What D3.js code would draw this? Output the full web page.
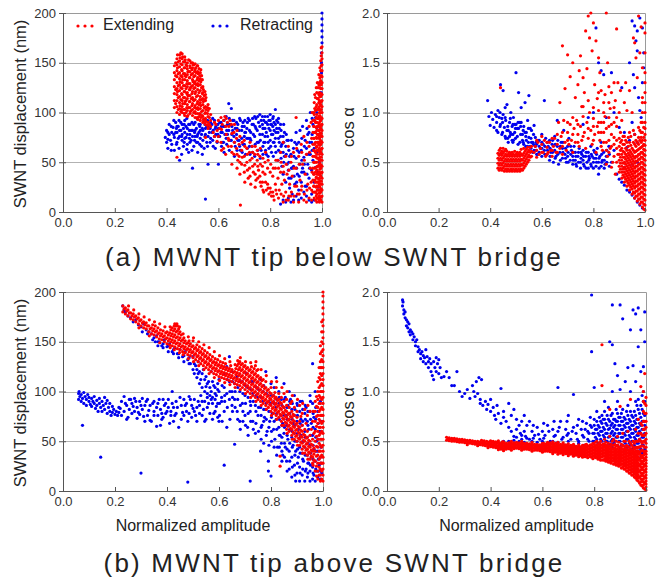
<!DOCTYPE html>
<html><head><meta charset="utf-8">
<script src="https://cdn.jsdelivr.net/npm/d3@7"></script>
<style>body{margin:0;background:#fff}svg{display:block}</style>
</head><body><svg id="c" width="668" height="580"></svg>
<script>
// ---------- data (column groups: [x, [y values]]) ----------
const xTicks=[0,0.2,0.4,0.6,0.8,1.0];
const dispTicks=[0,50,100,150,200];
const cosTicks=[0,0.5,1.0,1.5,2.0];
const seriesNames=["Extending","Retracting"];
const panelTitles=["(a) MWNT tip below SWNT bridge","(b) MWNT tip above SWNT bridge"];

// (a) displacement, retracting
const retA_disp=[[.395,[75]],[.40,[70,82]],[.405,[64,80,73]],[.41,[78,88]],[.415,[72]],[.418,[86,62]],[.42,[80,68]],[.425,[85]],[.428,[78,92]],[.43,[75,62]],[.435,[90,80]],[.438,[68,84]],[.44,[80,70,86]],[.445,[86,74]],[.448,[92,64]],[.45,[76,52,82]],[.455,[82,90]],[.458,[76,58]],[.46,[88,72,78]],[.465,[66,84]],[.468,[88,70]],[.47,[80,92,74]],[.475,[75,86]],[.478,[63,94]],[.48,[84,68,78]],[.485,[60,88]],[.488,[82,74]],[.49,[78,88,70]],[.495,[72,82]],[.498,[90,62]],[.50,[82,44,76]],[.505,[66,88]],[.508,[72,80]],[.51,[76,90,82]],[.515,[84,70]],[.518,[94,76]],[.52,[70,60,78]],[.525,[80,88]],[.528,[68,86]],[.53,[88,74,82]],[.535,[66,78]],[.538,[84,58]],[.54,[82,72]],[.545,[92,64]],[.548,[76,88]],[.55,[78,13,84]],[.555,[70,86]],[.558,[66,92]],[.56,[86,48,76]],[.565,[80]],[.568,[84,70]],[.57,[74,90]],[.575,[88,80]],[.578,[94,72]],[.58,[82,66]],[.585,[92,76]],[.588,[64,84]],[.59,[78,86]],[.595,[70]],[.598,[88,78]],[.60,[84,48,76]],[.605,[76,90]],[.61,[90,80]],[.612,[66,86]],[.615,[80,70]],[.62,[70,86]],[.622,[92,60]],[.625,[86,78]],[.63,[96,74]],[.632,[82,68]],[.635,[78,88]],[.64,[109,82]],[.642,[94,62]],[.645,[88,72]],[.65,[104,72]],[.652,[86,78]],[.655,[82,92]],[.66,[92,76]],[.662,[70,56]],[.665,[66,84]],[.67,[78,90]],[.672,[84,62]],[.675,[88,72]],[.68,[72,82]],[.682,[94,66]],[.685,[62,92]],[.69,[82,74]],[.692,[60,86]],[.695,[90,68]],[.70,[76,68,86]],[.702,[92,80]],[.705,[58,80]],[.71,[84,74]],[.712,[64,90]],[.715,[74,94]],[.72,[92,66,82]],[.722,[74,58]],[.725,[80,72]],[.73,[66,88]],[.732,[94,60]],[.735,[88,78]],[.74,[76,56,96]],[.742,[68,86]],[.745,[94,84]],[.75,[82,70]],[.752,[62,96]],[.755,[70,90]],[.76,[98,86,78]],[.762,[72,54]],[.765,[62,92]],[.77,[78,88,96]],[.772,[84,66,58]],[.775,[92,70,84]],[.78,[96,84,70,76]],[.782,[90,62]],[.785,[58,90,80]],[.79,[88,76,96]],[.792,[70,56]],[.795,[64,84,92]],[.80,[92,82,72,98]],[.802,[66,88]],[.805,[60,88,78]],[.81,[86,78,94]],[.812,[96,70,56]],[.815,[90,70,82]],[.82,[103,74,66,88]],[.822,[80,60]],[.825,[84,92]],[.83,[80,52,90]],[.832,[94,74,62]],[.835,[70,84]],[.84,[88,60,76,8]],[.842,[82,66,54]],[.845,[46,68]],[.85,[76,38,60,12]],[.852,[70,88,50]],[.855,[56,80]],[.86,[66,30,10]],[.862,[58,78]],[.865,[48,72]],[.87,[72,42,14]],[.872,[62,50,34]],[.875,[24,56]],[.88,[58,34,10]],[.882,[72,44]],[.885,[18,44]],[.89,[64,46,12]],[.892,[56,36]],[.895,[28,70]],[.90,[80,54,16]],[.902,[68,44,30]],[.905,[38,62]],[.91,[70,22,12]],[.912,[60,36]],[.915,[48,82]],[.92,[62,30,14]],[.922,[74,52,40]],[.925,[86,44]],[.93,[55,40,20]],[.932,[66,48]],[.935,[72,26]],[.94,[92,64,26,16]],[.942,[84,58,38]],[.945,[48,78]],[.95,[80,34,58,12]],[.952,[70,44]],[.955,[100,58]],[.96,[70,42,18,10]],[.962,[94,78,62]],[.965,[88,52]],[.97,[64,30,12]],[.975,[95,45]],[.98,[100,85,60]],[.985,[40,25]],[.99,[110,75,50,15]],[.996,[120,130]],[.998,[140,150,160]],[1,[170,176,182,188,194,200]]];

// (a) displacement, extending
const extA_disp=[[.43,[105,112,119,126,133,140,147]],[.435,[109,123,137,150]],[.44,[100,106,112,118,124,130,136,142,148,154,55]],[.442,[158,145,121]],[.445,[103,115,127,139,151]],[.45,[98,104,110,116,122,128,134,140,146,152,158]],[.452,[107,131,155]],[.455,[101,113,125,137,149,160]],[.458,[119,143,103]],[.46,[100,106,112,118,124,130,136,142,148,154,159]],[.462,[109,133,156]],[.465,[103,115,127,139,151]],[.468,[121,145,99]],[.47,[97,103,109,115,121,127,133,139,145,151,156]],[.472,[111,137,153]],[.475,[100,112,124,136,148]],[.478,[105,129,147,119]],[.48,[96,102,108,114,120,126,132,138,144,150]],[.482,[97,117,141]],[.485,[105,117,129,141,153]],[.488,[111,135,123]],[.49,[99,105,111,117,123,129,135,141,147,152]],[.492,[101,125,145]],[.495,[102,114,126,138,150]],[.498,[107,119,143]],[.50,[97,103,109,115,121,127,133,139,145,150]],[.502,[113,131,148]],[.505,[100,112,124,136,148]],[.508,[105,129,141]],[.51,[95,101,107,113,119,125,131,137,143,149]],[.512,[99,121,145]],[.515,[104,116,128,140]],[.518,[95,109,133,147]],[.52,[93,99,105,111,117,123,129,135,141,147]],[.522,[103,127,139]],[.525,[96,108,120,132,144]],[.528,[99,113,137]],[.53,[92,98,104,110,116,122,128,134,140]],[.532,[95,107,131,143]],[.535,[101,113,125,137]],[.538,[97,119,133]],[.54,[90,96,102,108,114,120,126]],[.542,[93,111,123]],[.545,[93,105,117]],[.548,[91,99,113,121]],[.55,[88,94,100,106,112,118,75]],[.552,[91,103,115]],[.558,[87,99,105]],[.56,[84,90,96,102,108]],[.565,[88,95,104]],[.57,[86,92,98]],
[.58,[80]],[.585,[76,90]],[.59,[88]],[.595,[82,71]],[.60,[92,76]],[.605,[84]],[.61,[95,70]],[.612,[83,62]],[.615,[88]],[.62,[92,64]],[.625,[96]],[.628,[86,58]],[.63,[94,78]],[.635,[90]],[.638,[74,66]],[.64,[86,72]],[.645,[92]],[.65,[88,66]],[.652,[79,60,48]],[.66,[80,58]],[.662,[88,70]],[.67,[74,64]],[.672,[82,58,44]],[.675,[52]],[.68,[68,56]],[.683,[76,50,38]],[.685,[7]],[.69,[62,48]],[.692,[70,55]],[.70,[72,56,40]],[.702,[66,47,30]],[.71,[64,50]],[.712,[58,42]],[.715,[34]],[.72,[60,44]],[.722,[70,52,36]],[.725,[28]],[.73,[66,54]],[.732,[46,60]],[.735,[40]],[.74,[58,48]],[.742,[66,38,25]],[.745,[32]],[.75,[62,52]],[.752,[46,58,34]],[.755,[42]],[.76,[56,36]],[.762,[64,48,30]],[.765,[26]],[.77,[46,30]],[.772,[54,40,22]],[.775,[20]],[.78,[50,38]],[.782,[60,30]],[.785,[22]],[.79,[44,28]],[.792,[52,24]],[.795,[18]],[.80,[40,24]],[.802,[48,20]],[.805,[16]],[.81,[36,20]],[.812,[44,16]],[.815,[12]],[.82,[44,28]],[.822,[52,22]],[.825,[18]],[.83,[52,34]],[.832,[44,14]],[.835,[22]],[.84,[60,40]],[.842,[50,18]],[.845,[28]],[.85,[70,46,10]],[.852,[40,16]],[.855,[32]],[.86,[56,20]],[.862,[48,12]],[.865,[38]],[.87,[66,12]],[.872,[42,16]],[.875,[28]],[.88,[50,16]],[.882,[56,20]],[.885,[36]],[.89,[60,10]],[.892,[44,16]],[.895,[26]],[.90,[95,44]],[.902,[64,26]],[.905,[18]],[.91,[56,10]],[.912,[48,18]],[.915,[32]],[.92,[68,22]],[.922,[60,26]],[.925,[48]],[.93,[76,12]],[.932,[52,18]],[.935,[38]],[.94,[58,10]],[.942,[70,22]],[.945,[28]],[.95,[86,66,14]],[.952,[60,24]],[.955,[44]],[.958,[90,30]],[.96,[74,22,12]],[.962,[100,40]],
[.965,[20,32,44,56,68,80,92]],[.968,[26,38,50,62,74,86,100]],[.97,[14,26,38,50,62,74,86,98,110]],[.972,[20,32,44,56,68,80,92,104,118]],[.975,[12,20,30,40,50,60,70,80,90,102,115]],[.978,[16,25,35,45,55,65,75,85,95,106,125]],[.98,[10,18,26,34,42,50,58,66,74,82,90,98,108,120]],[.982,[14,22,30,38,46,54,62,70,78,86,94,103,114,130]],[.985,[14,22,30,38,46,54,62,70,78,86,94,104,114,125]],[.988,[12,19,26,33,40,47,54,61,68,75,82,89,96,103,110,118,128,138]],[.99,[10,16,22,28,34,40,46,52,58,64,70,76,82,88,94,100,106,112,120,130]],[.992,[13,19,25,31,37,43,49,55,61,67,73,79,85,91,97,103,109,116,125,135,145]],[.995,[12,20,28,36,44,52,60,68,76,84,92,100,108,116,124,132,142,152]],[.997,[15,23,31,39,47,55,63,71,79,87,95,103,111,119,128,137,147,157,165]],[1,[10,16,22,28,34,40,46,52,58,64,70,76,82,88,94,100,106,112,118,124,130,136,142,148,154,160,166]]];

// (a) cos alpha, retracting
const retA_cos=[[.39,[1.12]],[.395,[.96]],[.40,[.87]],[.405,[1.0]],[.41,[.93]],[.415,[.85]],[.42,[.98]],[.425,[.9,.82,.96]],[.43,[1.02,.8]],[.435,[.95]],[.438,[.86,1.0]],[.44,[1.28,.88]],[.445,[.78,.94]],[.448,[.8,.9]],[.45,[1.22,.98]],[.455,[.85]],[.458,[.76,.95,1.05]],[.46,[.92,.74]],[.465,[1.08,.82]],[.468,[.86,.74]],[.47,[.82,.7]],[.475,[.9,.76]],[.478,[.8,.94]],[.48,[1.0,.78]],[.485,[.86,.72]],[.488,[.7,.88,.78]],[.49,[.72,.95]],[.495,[.8,.88]],[.498,[.84,.74]],[.50,[1.4,.88]],[.505,[.76,.84]],[.508,[.9,.68]],[.51,[1.2,.84]],[.515,[.7,.9]],[.518,[.78,.86]],[.52,[1.05,.9]],[.525,[.78,.72]],[.528,[.82,.7]],[.53,[.68,.86]],[.535,[1.1,.8]],[.538,[.76,.66]],[.54,[.8,.72]],[.545,[.92,.66]],[.548,[.84,.7]],[.55,[1.17,.75]],[.555,[.66,.84]],[.558,[.74,.64]],[.56,[.82,.7]],[.565,[.7,.6]],[.568,[.78,.68]],[.57,[.87,.62]],[.575,[.75,.66]],[.578,[.7,.62]],[.58,[.68,.58]],[.585,[.58,.72]],[.59,[.72,.66,.6]],[.595,[.64]],[.60,[.78,.56,.7,.64]],[.605,[.68]],[.61,[1.12,.62]],[.612,[.66,.58]],[.615,[.74]],[.62,[.58]],[.622,[.7,.62]],[.625,[.66]],[.63,[.52,.72]],[.632,[.64,.56]],[.635,[.6]],[.64,[.68]],[.642,[.6,.72]],[.645,[.5]],[.65,[.62,.76]],[.652,[.68,.54]],[.655,[.56]],[.66,[.92,.66]],[.662,[.58,.72]],[.665,[.48]],[.67,[.6]],[.672,[.66,.52]],[.675,[.7]],[.68,[.54,.64]],[.682,[.6,.7]],[.685,[.82]],[.69,[.58]],[.692,[.64,.54]],[.695,[.5]],[.70,[.66,.56]],[.702,[.6,.5]],[.705,[.74]],[.71,[.52]],[.712,[.66,.58]],[.715,[.62]],[.72,[.56,.48]],[.722,[.6,.52]],[.725,[.66]],[.73,[.52,.6]],[.732,[.56,.48]],[.735,[.46]],[.74,[.56]],[.742,[.6,.5]],[.745,[.64]],[.75,[.5,.44]],[.752,[.54,.6]],[.755,[.58]],[.76,[.52,.62,.88]],[.762,[.56,.48]],[.765,[.46]],[.77,[.56]],[.772,[.6,.44]],[.775,[.5]],[.78,[.44,.6,.95]],[.782,[.52,.56]],[.785,[.54]],[.79,[.48,.66]],[.792,[.58,.46]],[.795,[.56]],[.80,[.5,.44,1.0]],[.802,[.54,.62]],[.805,[.6]],[.81,[.54,.46,1.85]],[.812,[.5,.58]],[.815,[.64]],[.82,[.5,.38,1.5]],[.822,[.54,.44]],[.825,[.56]],[.83,[.46,.7,1.42]],[.832,[.58,.5]],[.835,[.52]],[.84,[.6,1.38]],[.842,[.52,.44]],[.845,[.48]],[.85,[.56,.95]],[.852,[.5,.62]],[.86,[.66]],[.862,[.58,.46]],[.87,[.5,1.4]],[.88,[.62,1.0]],[.89,[.38]],[.90,[.85,.33]],[.91,[1.25,.3]],[.92,[.8,.27,.45]],[.93,[.65,.22]],[.94,[1.5,.72,.2]],[.95,[1.92,.9,.17,.48]],[.955,[1.38]],[.96,[1.87,1.25,.78,.14]],[.965,[1.72]],[.97,[1.82,1.62,.7,.1,.5]],[.975,[1.15]],[.98,[1.95,1.02,.07]],[.985,[.95]],[.99,[1.3,1.85,.04]],[.995,[1.6,1.45]]];

// (a) cos alpha, extending
const extA_cos=[[.43,[.44,.49,.54,.59]],[.435,[.42,.47,.52,.57,.62]],[.44,[.44,.49,.54,.59,.64,1.25]],[.445,[.42,.47,.52,.57,.61]],[.45,[.44,.49,.54,.59,.64]],[.455,[.41,.46,.51,.56,.61]],[.46,[.43,.48,.53,.58,.63]],[.465,[.41,.46,.51,.56,.61]],[.47,[.43,.48,.53,.58]],[.475,[.41,.46,.51,.56,.6]],[.48,[.43,.48,.53,.58]],[.485,[.41,.46,.51,.56,.6]],[.49,[.43,.48,.53,.58]],[.495,[.41,.46,.51,.56,.61]],[.50,[.43,.48,.53,.58]],[.505,[.41,.46,.51,.56,.6]],[.51,[.43,.48,.53,.58]],[.515,[.41,.46,.51,.56,.6]],[.52,[.43,.48,.53,.58,.63]],[.525,[.42,.47,.52,.57]],[.53,[.44,.49,.54,.59,.64]],[.535,[.46,.51,.56,.61]],[.54,[.48,.53,.58,.63]],[.545,[.5,.55,.6,.65]],[.55,[.52,.57,.62]],[.555,[.55,.6,.65]],[.56,[.56,.61,.66]],
[.57,[.6]],[.575,[.66]],[.58,[.62,.55,.72]],[.585,[.7]],[.59,[.58]],[.595,[.64]],[.60,[.68,.6,.76]],[.605,[.6]],[.61,[.72]],[.615,[.56]],[.62,[.65,.7,.58]],[.625,[.6]],[.63,[.7]],[.635,[.62]],[.64,[.56,.62,.74]],[.645,[.66]],[.65,[.74]],[.655,[.6]],[.66,[.68,.6,.78]],[.665,[.9]],[.67,[.64,1.1]],[.675,[.76]],[.68,[.58,1.67,.66,.8]],[.685,[.92]],[.69,[.7,1.24]],[.695,[.62]],[.70,[.8,1.58,.72,.9]],[.705,[.68]],[.71,[.88,1.36]],[.715,[.72]],[.72,[.6,1.5,.78,.95]],[.725,[.84]],[.73,[.7,1.15]],[.735,[.92]],[.74,[.78,1.28,.7,.88]],[.745,[.66,1.42]],[.75,[.86,1.57]],[.755,[.72,1.06]],[.76,[.96,1.35,.76,1.06]],[.765,[.8,1.2]],[.77,[.64,1.82]],[.775,[.9,1.44]],[.78,[.74,1.97,.84,1.12]],[.785,[1.0,1.75]],[.79,[.82,2.0]],[.795,[.68,1.62]],[.80,[.94,1.9,.72,.86,1.05]],[.805,[.78,1.28]],[.81,[.6,1.72]],[.815,[.86,1.14]],[.82,[1.02,1.55,.8,.9,1.2]],[.825,[.72,1.4]],[.83,[.9,1.22,.66,.8]],[.835,[.62]],[.84,[.8,1.1,.7,.9,1.0]],[.845,[.96,1.18]],[.85,[.7,2.0,.48,.62,.84]],[.855,[.56,1.5]],[.86,[.86,1.26,.6,.72,.95,1.1]],[.865,[.64,1.04]],[.87,[.78,1.2,.45,.66,.88]],[.875,[.5]],[.88,[.68,1.3,.56,.75,.9,1.05]],[.885,[.38,1.12]],[.89,[.86,1.84,.5,.64,.72,.95]],[.895,[.58,1.3]],
[.90,[.40,.46,.52,.58,.66,.74,1.0]],[.905,[1.22,.43,.49,.55,.62,.7,.8]],[.91,[.34,.40,.46,.52,.58,.64,.72,.92]],[.915,[.37,.43,.49,.55,.61,.68,.76]],[.92,[.30,.35,.40,.45,.50,.55,.60,.68,.76,1.1]],[.925,[1.3,.33,.38,.43,.48,.53,.58,.64,.72]],[.93,[.26,.31,.36,.41,.46,.51,.56,.62,.7,1.02]],[.935,[.29,.34,.39,.44,.49,.54,.59,.66,.75]],[.94,[.22,.27,.32,.37,.42,.47,.52,.57,.62,.7,.8,1.22]],[.945,[.25,.3,.35,.4,.45,.5,.55,.6,.67,.76]],[.95,[.18,.23,.28,.33,.38,.43,.48,.53,.58,.64,1.0]],[.955,[1.75,.2,.26,.31,.36,.41,.46,.51,.56,.62,.7,.82]],[.96,[.14,.19,.24,.29,.34,.39,.44,.49,.54,.6,.68,.78,1.7]],[.965,[.16,.26,.36,.46,.56,.66,1.55,.21,.31,.41,.51,.61,.72]],[.97,[.11,.16,.21,.26,.31,.36,.41,.46,.51,.56,.62,.7,1.35]],[.975,[.13,.23,.33,.43,.53,.63,.75,1.97,.18,.28,.38,.48,.58,.68,.85]],[.98,[.08,.13,.18,.23,.28,.33,.38,.43,.48,.53,.58,.64,.72,.82,1.6]],[.985,[.1,.2,.3,.4,.5,.6,.7,.8,1.86,.15,.25,.35,.45,.55,.65,.75,.9]],[.99,[.05,.1,.15,.2,.25,.3,.35,.4,.45,.5,.55,.6,.66,.72,.8,.9,1.0,1.1,1.15,1.45]],[.995,[.03,.08,.13,.18,.23,.28,.33,.38,.43,.48,.53,.58,.63,.68,.75,.85]],[1,[.02,.07,.12,.17,.22,.27,.32,.37,.42,.47,.52,.57,.62,.67,.72,.78,.84,.9,1.0,1.1,1.2,1.3,1.4,1.6,1.8,1.9]]];

// (b) displacement, retracting
const retB_disp=[[.06,[98,92]],[.062,[100]],[.065,[95]],[.07,[97,90]],[.075,[93,66]],[.08,[99,88]],[.085,[95]],[.09,[92,86]],[.095,[97]],[.10,[90,94]],[.105,[87]],[.11,[93,85]],[.115,[90]],[.12,[88,95]],[.125,[83]],[.13,[91,86]],[.135,[80]],[.14,[93,88]],[.145,[84,34]],[.15,[90,80]],[.155,[86]],[.16,[94,82]],[.165,[88]],[.17,[91,78]],[.175,[84]],[.18,[88,80]],[.185,[76]],[.19,[85,79]],[.195,[82]],[.20,[77]],[.205,[80]],[.21,[76]],[.215,[84,79]],
[.22,[83]],[.225,[90,76]],[.23,[186]],[.235,[182,80,95]],[.24,[88,180]],[.245,[86,72]],[.25,[74,176]],[.255,[92,82]],[.26,[92,174]],[.265,[78,88]],[.27,[85,170]],[.275,[93,80]],[.28,[90,172]],[.285,[84,73]],[.29,[79,167]],[.295,[90,77]],[.30,[86,18,165]],[.305,[82,93,160]],[.31,[75,168]],[.315,[86,70]],[.32,[90,162]],[.325,[76,92,158]],[.33,[81,160]],[.335,[86,71]],[.34,[70,158]],[.345,[88,152]],[.35,[76,154,90,80]],[.355,[150]],[.36,[84,65,156]],[.365,[76,88,150,146]],[.37,[92,150]],[.375,[82,66]],[.38,[78,72,146]],[.385,[92,74,144,148]],[.39,[86,152]],[.395,[78,88]],[.40,[80,145]],[.405,[92,84,140,146]],[.41,[68,148]],[.415,[76,80]],[.42,[100,88,140]],[.425,[84,70,138,142]],[.43,[76,144]],[.435,[90,78]],[.44,[84,138]],[.445,[64,134,138]],[.45,[94,142]],[.455,[86,72]],[.46,[79,135]],[.465,[92,76,130,136]],[.47,[86,140]],[.475,[80,88]],[.48,[9,70,132]],[.485,[78,95,128,134]],[.49,[92,128]],[.495,[86,74]],[.50,[83,135,122]],[.505,[92,80,118,128]],[.51,[76,126]],[.515,[84,70,114,122]],[.52,[90,118,130]],[.525,[86,78,108,120]],[.53,[96,112]],[.535,[76,90,104,118]],[.54,[82,122]],[.545,[90,70,100,112]],[.55,[72,105,115]],[.555,[84,94,98,108]],[.56,[88,110]],[.565,[78,96,104]],[.57,[92,100,120]],[.575,[88,72,94,110]],[.58,[78,106]],[.585,[80,92,98,104]],[.59,[85,96]],[.595,[74,88,102,108]],[.60,[70,112,100]],[.602,[88,76]],[.61,[90,94]],[.612,[106,70]],[.62,[26,80,118,104]],[.622,[96,90]],[.63,[64,125,98]],[.632,[112,84]],[.64,[92,135,110]],[.642,[100,72]],[.65,[86,120,100]],[.652,[110,94,80]],
[.66,[108,92,47]],[.662,[100,84]],[.67,[115,80]],[.672,[104,92,72]],[.68,[100,70]],[.682,[110,86,62]],[.69,[110,88]],[.692,[98,80,70]],[.70,[96,76]],[.702,[106,88,66]],[.705,[118]],[.71,[104,64]],[.712,[94,78,56]],[.72,[90,80,10]],[.722,[102,86,70]],[.725,[110]],[.73,[98,70]],[.732,[110,90,62]],[.74,[86,58]],[.742,[96,80,68]],[.745,[104]],[.75,[94,76]],[.752,[102,84,60]],[.76,[112,84,40]],[.762,[94,76,64,52]],[.765,[66]],[.77,[100,90]],[.772,[106,82,70,48]],[.775,[74]],[.78,[120,82]],[.782,[98,88,72,56]],[.785,[60]],[.79,[96,30,20]],[.792,[90,80,64,46]],[.795,[70]],[.80,[108,88,15]],[.802,[96,74,60,50]],[.805,[78]],[.81,[96,62]],[.812,[104,88,70,44]],[.815,[52]],[.82,[114,84,72]],[.822,[92,78,62,36]],[.825,[44]],[.83,[100,88,64]],[.832,[94,72,56,44]],[.835,[56]],[.84,[92,76,48]],[.842,[86,66,54,40,30]],[.845,[68,36]],[.85,[108,84,58]],[.852,[92,76,64,48,34]],[.855,[94,44]],[.86,[76,66,30]],[.862,[84,72,56,42,20]],[.865,[86,52]],[.87,[100,72,40,22]],[.872,[90,78,62,48,30]],[.875,[62,92]],[.88,[82,54,34,14]],[.882,[88,72,60,44,24]],[.885,[68,46]],[.89,[96,76,58,26]],[.892,[82,66,50,36,16]],[.895,[40,10]],[.90,[88,70,50,18]],[.902,[86,76,58,42,28]],[.905,[62,34]],[.91,[80,44,24,10]],[.912,[90,68,54,38,18]],[.915,[56,72]],[.92,[90,66,38,16]],[.922,[82,70,50,32,22]],[.925,[50,30]],[.93,[78,60,44,10]],[.932,[86,72,54,36,20]],[.935,[84,22]],[.94,[70,54,36,14]],[.942,[80,66,48,28,18]],[.945,[62,28]],[.95,[96,80,46,20,10]],[.952,[90,72,56,38,26]],[.955,[68,34]],[.96,[128,88,56,24,12]],[.962,[78,64,46,32,18]],[.965,[74,42,16]],[.97,[100,62,30,10]],[.972,[84,72,54,40,22]],[.975,[50,20]],[.98,[80,40,14]],[.982,[68,52,32,20]],[.985,[60,26]],[.99,[90,34,12]],[.992,[60,44,28,20]],[.995,[70,18]]];

// (b) displacement, extending
const extB_disp=[[.23,[180,186]],[.235,[183]],[.24,[178,184]],[.245,[181]],[.25,[176,182]],[.252,[186]],[.255,[179]],[.26,[173,179]],[.265,[176]],[.27,[172,178]],[.272,[182]],[.275,[175]],[.28,[170,176]],[.285,[173]],[.29,[168,174]],[.292,[178,164]],[.295,[171]],[.30,[166,172]],[.305,[169]],[.31,[164,170]],[.312,[175]],[.315,[167]],[.32,[163,169]],[.325,[166]],[.33,[160,166]],[.332,[172,156]],[.335,[163]],[.34,[158,164]],[.345,[161,167]],[.35,[157,163]],[.352,[170]],[.355,[160,166]],[.36,[155,161]],[.365,[158,164]],[.37,[153,159]],[.372,[168,149]],[.375,[156,162]],[.38,[152,158]],[.385,[155,161]],[.39,[150,156]],[.392,[165]],[.395,[153,159]],[.40,[148,154,160]],[.405,[151,157]],[.41,[147,153,159]],[.412,[165,144]],[.415,[150,156,162]],[.42,[146,152,158,164]],[.425,[149,155,161]],[.428,[166,142]],[.43,[145,151,157,163,168]],[.435,[148,154,160,166]],[.438,[168]],[.44,[143,149,155,161,166]],[.445,[146,152,158,163]],[.448,[165,139]],[.45,[142,148,154,160]],[.455,[145,151,157]],[.46,[140,146,152]],[.462,[158,137]],[.465,[143,149,154]],[.47,[139,145,151]],[.475,[142,148]],[.48,[137,143,149]],[.482,[155,133]],[.485,[140,146,151]],[.49,[136,142,148]],[.495,[139,145]],[.50,[134,140,146,151]],[.502,[154,130]],[.505,[137,143]],[.51,[132,138,144]],[.515,[135,141,147]],[.52,[130,136,142]],[.522,[150,126]],[.525,[133,139,145]],[.53,[128,134,140]],[.535,[131,137,143]],[.54,[126,132,138]],[.542,[147,122]],[.545,[129,135,141]],[.55,[124,130,136]],[.555,[127,133,139]],[.56,[122,128,134]],[.562,[144,118]],[.565,[125,131,137]],[.57,[120,126,132]],[.575,[123,129,135]],[.58,[118,124,130]],[.582,[140,114]],[.585,[121,127,133]],[.59,[117,123,129]],[.595,[120,126,132]],[.60,[115,121,127]],[.602,[136,111]],[.605,[118,124,130]],[.61,[114,120,126]],[.615,[117,123,129]],[.62,[113,119,125]],[.622,[133,109]],[.625,[116,122,128]],[.63,[112,118,124]],[.635,[115,121]],[.64,[111,117,123]],[.642,[130,107]],[.645,[114,120,126]],[.65,[110,116,122]],[.655,[113,119]],[.66,[108,114,120]],[.662,[127,104]],[.665,[111,117,123]],[.67,[107,113,119,126]],[.672,[131]],[.675,[110,116,122,128]],[.68,[106,112,118,124,130]],[.682,[134,102]],[.685,[109,115,121,127]],[.69,[104,110,116,122,128]],[.695,[107,113,119,125]],[.70,[102,108,114,120,126]],[.702,[130,98]],[.705,[105,111,117,123]],[.71,[100,106,112,118,124]],[.715,[103,109,115,121]],[.72,[98,104,110,116,122]],[.722,[129,94]],[.725,[101,107,113,119,125]],[.73,[96,102,108,114,120]],[.735,[99,105,111,117,123]],[.74,[94,100,106,112,118,126]],[.742,[130,90]],[.745,[97,103,109,115,121]],[.75,[92,98,104,110,116,122]],[.755,[95,101,107,113]],[.76,[90,96,102,108,114]],[.762,[122,86]],[.765,[93,99,105,111]],[.77,[88,94,100,106,112]],[.775,[91,97,103]],[.78,[86,92,98,104,110]],[.782,[116,82]],[.785,[89,95,101]],[.79,[84,90,96,102]],[.795,[87,93,99]],[.80,[80,86,92,98,104]],[.802,[110,76]],[.805,[83,89,95]],[.81,[78,84,90,96]],[.815,[81,87,93,99]],[.82,[76,82,88,94,104]],[.822,[110,72]],[.825,[79,85,91]],[.83,[74,80,86,92,98]],[.835,[77,83,89,25,35]],[.84,[70,76,82,88,94]],[.842,[104,66]],[.845,[73,79,85]],[.85,[66,72,78,84,90,98]],[.855,[69,75,81]],[.86,[62,68,74,80,86,92]],[.862,[100,58]],[.865,[65,71,77]],[.87,[60,66,72,78,84]],[.875,[63,69,75,88]],[.88,[56,62,68,74,80,90]],[.882,[96,52]],[.885,[59,65,71,77]],[.89,[52,58,64,70,76,84]],[.895,[55,61,67]],[.90,[50,56,62,68,74,80]],[.902,[92,46]],[.905,[53,59,65]],[.91,[46,52,58,64,70,86]],[.915,[49,55,61,75]],[.92,[42,48,54,60,66,78]],[.922,[88,38]],[.925,[45,51,57]],[.93,[38,44,50,56,62,82]],[.935,[41,47,53,68]],[.94,[36,42,48,54,60,76]],[.942,[86,32]],[.945,[39,45,51]],[.95,[32,38,44,50,56,80]],[.955,[35,41,47,62]],[.96,[28,34,40,46,52,70]],[.962,[80,26]],[.965,[31,37,43,58]],
[.97,[20,30,40,50,60,70,80,90]],[.975,[15,25,35,45,55,65,75,85,95]],[.98,[12,20,28,36,44,52,60,68,76,84,92,100,110]],[.985,[16,24,32,40,48,56,64,72,80,88,96,104,114,124]],[.99,[10,16,22,28,34,40,46,52,58,64,70,76,82,88,94,100,106,112,118,124,130,138,146]],[.995,[12,20,28,36,44,52,60,68,76,84,92,100,108,116,124,132,140,150,160,170]],[1,[10,16,22,28,34,40,46,52,58,64,70,76,82,88,94,100,106,112,118,124,130,136,142,148,154,160,166,172,178,184,190,196,200]]];

// (b) cos alpha, retracting
const retB_cos=[[.06,[1.92,1.86]],[.062,[1.9]],[.065,[1.82,1.78]],[.07,[1.8,1.74]],[.075,[1.72,1.66]],[.08,[1.7,1.64]],[.085,[1.68,1.6]],[.09,[1.62,1.57]],[.095,[1.6]],[.10,[1.58,1.52]],[.105,[1.55]],[.11,[1.5,1.46]],[.115,[1.52]],[.12,[1.45,1.4]],[.125,[1.42]],[.13,[1.38,1.33]],[.135,[1.4]],[.14,[1.36,1.3]],[.145,[1.34]],[.15,[1.42,1.28]],[.155,[1.35]],[.16,[1.3,1.24]],[.165,[1.33]],[.17,[1.2,1.28]],[.175,[1.16]],[.18,[1.12,1.3]],[.185,[1.24]],[.19,[1.34,1.2]],[.195,[1.28]],[.20,[1.32,1.18]],[.205,[1.24]],[.21,[1.14]],[.22,[1.15]],[.23,[1.2]],[.24,[1.14]],[.25,[1.06]],[.26,[1.06]],[.27,[1.2]],[.28,[1.0]],[.29,[.95]],[.30,[.98]],[.31,[1.02]],[.32,[.93]],[.33,[1.06]],[.335,[1.0]],[.34,[.95]],[.345,[1.1]],[.35,[.98]],[.355,[1.14]],[.36,[.92,.88]],[.365,[1.12]],[.37,[.86]],[.38,[.9]],[.385,[.82]],[.39,[.87]],[.40,[.8,.92]],[.41,[.84]],[.415,[.76]],[.42,[.72]],[.425,[.86]],[.43,[.78]],[.44,[1.03,.68]],[.45,[.8,.74,.5]],[.46,[.7]],[.47,[.88,.64,.5]],[.48,[.76,.6]],[.49,[.82,.55,.51]],[.50,[.72,.62,.54]],[.51,[.66,.5]],[.515,[.58]],[.52,[.7,.56,.52]],[.53,[.6,.76,.49]],[.535,[.55]],[.54,[.66,.53]],[.55,[.52,.7]],[.56,[.6,.5]],[.565,[.66,.53]],[.57,[.56]],[.58,[.64,.49]],[.585,[.57]],[.59,[.52]],[.60,[.6,.5]],[.605,[.53,.68]],[.61,[.56]],[.62,[.66,.48]],[.625,[.6]],[.63,[.5]],[.64,[.62,.5]],[.645,[.55,.7]],[.65,[.56]],[.66,[1.04,.6,.49]],[.665,[.64]],[.67,[.7]],[.675,[.52]],[.68,[.54,.47]],[.69,[.62]],[.695,[.56,.7]],[.70,[.76,.58,.5]],[.71,[.52]],[.715,[.6]],[.72,[.97,.64,.46]],[.73,[.58]],[.735,[.52,.66]],[.74,[.72,.5,.48]],[.75,[.62]],[.755,[.56,.7]],[.76,[.54,.46]],[.765,[.62]],[.77,[.68]],[.775,[.52,.6]],[.78,[.58,.5]],[.785,[.66,.74]],[.79,[1.97,1.4,.64]],[.795,[.5,.58]],
[.80,[1.04,.72,.5,.58,.66]],[.805,[.54,.62]],[.81,[.52,.62,.7,.8]],[.815,[.58,.66,.48]],[.82,[.48,.56,.64,.74]],[.825,[.52,.6,.7]],[.83,[.5,.6,.68,.76]],[.835,[.56,.64,.72]],[.84,[.46,.54,.62,.72,.8,.9]],[.845,[.5,.58,.68]],[.85,[.5,.58,.66,.76,.35]],[.855,[.54,.62,.72,.84]],[.86,[.47,.55,.63,.7,1.5]],[.865,[.5,.58,.66,.76]],[.87,[.44,.52,.6,.68,.78,1.87,1.47,1.0]],[.875,[.48,.56,.64,.72]],[.88,[.5,.58,.66,.72,1.28,.32]],[.885,[.54,.62,.7,.82]],[.89,[.46,.54,.62,.7,.78,.9,1.16]],[.895,[.5,.58,.66,.74]],[.90,[.42,.5,.58,.66,.74,1.87,1.02,.3]],[.905,[.46,.54,.62,.7,.78]],[.91,[.46,.54,.62,.7,.82,1.73]],[.915,[.5,.58,.66,.74]],[.92,[.4,.48,.56,.64,.72,1.1,.28]],[.925,[.44,.52,.6,.68,.8]],[.93,[.44,.52,.6,.68,.76,1.24,.86]],[.935,[.48,.56,.64,.72]],[.94,[.38,.46,.54,.62,.7,.8,1.62,1.0]],[.945,[.42,.5,.58,.66,.76]],[.95,[.42,.5,.58,.66,.74,1.82,1.26,.22]],[.955,[.46,.54,.62,.7,.8]],[.96,[.36,.44,.52,.6,.68,.76,.9,1.78,1.1]],[.965,[.4,.48,.56,.64,.72,.86]],[.97,[.4,.48,.56,.64,.72,.82,1.84,1.45,.92]],[.975,[.44,.52,.6,.68,.78]],[.98,[.34,.42,.5,.58,.66,.74,.86,1.62,1.2]],[.985,[.38,.46,.54,.62,.7,.82,.96]],[.99,[.38,.46,.54,.62,.7,.78,.9,1.25,1.0]],[.995,[1.8,1.5,.42,.5,.58,.66,.76,.9]]];

// (b) cos alpha, extending
const extB_cos=[[.23,[.51,.54]],[.235,[.525]],[.24,[.505,.535]],[.245,[.52]],[.25,[.5,.53]],[.255,[.515]],[.26,[.5,.53]],[.265,[.515]],[.27,[.495,.525]],[.275,[.51]],[.28,[.49,.52]],[.285,[.505]],[.29,[.49,.52]],[.295,[.505]],[.30,[.485,.515]],[.305,[.5]],[.31,[.48,.51,.465]],[.315,[.495]],[.32,[.48,.51]],[.325,[.495]],[.33,[.475,.505]],[.335,[.49]],[.34,[.47,.5]],[.345,[.485]],[.35,[.47,.5,.455]],[.355,[.485]],[.36,[.465,.495]],[.365,[.48,.51]],[.37,[.46,.49]],[.375,[.475,.505]],[.38,[.455,.485]],[.385,[.47,.5]],[.39,[.45,.48,.435]],[.395,[.465,.495]],[.40,[.445,.475,.505]],[.405,[.46,.49]],[.41,[.44,.47,.5]],[.415,[.455,.485]],[.42,[.435,.465,.495]],[.425,[.45,.48]],[.43,[.43,.46,.49,.415,.505]],[.435,[.445,.475]],[.44,[.42,.45,.48]],[.445,[.435,.465,.495]],[.45,[.42,.45,.48,.405,.495]],[.455,[.435,.465]],[.46,[.42,.45,.48]],[.465,[.435,.465]],[.47,[.425,.455,.485]],[.475,[.44,.47]],[.48,[.425,.455,.485,.41,.5]],[.485,[.44,.47]],[.49,[.425,.455,.485]],[.495,[.44,.47]],[.50,[.43,.46,.49]],[.505,[.445,.475]],[.51,[.425,.455,.485]],[.515,[.44,.47]],[.52,[.425,.455,.485,.41,.5]],[.525,[.44,.47]],[.53,[.42,.45,.48]],[.535,[.435,.465]],[.54,[.42,.45,.48]],[.545,[.435,.465]],[.55,[.415,.445,.475]],[.555,[.43,.46]],[.56,[.415,.445,.475,.4,.49]],[.565,[.43,.46]],[.57,[.41,.44,.47]],[.575,[.425,.455]],[.58,[.41,.44,.47]],[.585,[.425,.455]],[.59,[.405,.435,.465]],[.595,[.42,.45]],[.60,[.405,.435,.465,.39,.48]],[.605,[.42,.45,.48]],[.61,[.4,.43,.46]],[.615,[.415,.445,.475]],[.62,[.4,.43,.46,.49]],[.625,[.415,.445,.475]],[.63,[.395,.425,.455,.485]],[.635,[.41,.44,.47]],[.64,[.39,.42,.45,.48,.375,.495]],[.645,[.405,.435,.465]],[.65,[.39,.42,.45,.48]],[.655,[.405,.435,.465]],[.66,[.385,.415,.445,.475,.37,.49]],[.665,[.4,.43,.46]],[.67,[.38,.41,.44,.47]],[.675,[.395,.425,.455]],[.68,[.38,.41,.44,.47,.365,.485]],[.685,[.395,.425,.455]],[.69,[.375,.405,.435,.465]],[.695,[.39,.42,.45]],[.70,[.37,.4,.43,.46,.355,.475]],[.705,[.385,.415,.445]],[.71,[.37,.4,.43,.46]],[.715,[.385,.415,.445]],[.72,[.365,.395,.425,.455,.35,.47]],[.725,[.38,.41,.44]],[.73,[.36,.39,.42,.45]],[.735,[.375,.405,.435]],[.74,[.36,.39,.42,.45,.345,.465]],[.745,[.375,.405,.435]],[.75,[.355,.385,.415,.445]],[.755,[.34,.37,.4,.43,.46]],[.76,[.36,.39,.42,.45]],[.765,[.345,.375,.405,.435,.465]],[.77,[.35,.38,.41,.44,.47]],[.775,[.335,.365,.395,.425,.455]],[.78,[.36,.39,.42,.45]],[.785,[.345,.375,.405,.435,.465]],[.79,[.34,.37,.4,.43,.46]],[.795,[.325,.355,.385,.415,.445,.48]],[.80,[.35,.38,.41,.44,.47]],[.805,[.335,.365,.395,.425,.455,.49]],[.81,[.34,.37,.4,.43,.46,.5]],[.815,[.32,.35,.38,.41,.44,.47]],[.82,[.33,.36,.39,.42,.45,.48]],[.825,[.31,.345,.375,.405,.435,.465,.5]],[.83,[.34,.37,.4,.43,.46,1.47,1.06]],[.835,[.31,.355,.385,.415,.445,.475]],[.84,[.32,.35,.38,.41,.44,.47,.52]],[.845,[.3,.335,.365,.395,.425,.455,.49]],[.85,[.31,.34,.37,.4,.43,.46]],[.855,[.29,.325,.355,.385,.415,.445,.48]],[.86,[.3,.33,.36,.39,.42,.45,.82,.55]],[.865,[.28,.315,.345,.375,.405,.435,.47]],[.87,[.3,.33,.36,.39,.42,.46,.5]],[.875,[.27,.305,.335,.365,.395,.425,.46,.52]],[.88,[.28,.31,.34,.37,.4,.43,.47]],[.885,[.26,.295,.325,.355,.385,.415,.45,.5]],[.89,[.27,.3,.33,.36,.39,.42,.46,.55]],[.895,[.25,.285,.315,.345,.375,.405,.44,.49]],[.90,[.26,.29,.32,.35,.38,.41,.44,.85]],[.905,[.23,.27,.305,.335,.365,.395,.43,.47]],[.91,[.24,.27,.3,.33,.36,.39,.42,.46,.58]],[.915,[.22,.255,.285,.315,.345,.375,.41,.45,.5]],[.92,[.22,.25,.28,.31,.34,.37,.4,.43,.5]],[.925,[.2,.235,.265,.295,.325,.355,.385,.42,.46]],[.93,[.2,.23,.26,.29,.32,.35,.38,.41,.45,.6]],[.935,[.18,.215,.245,.275,.305,.335,.365,.4,.44,.5]],[.94,[.18,.21,.24,.27,.3,.33,.36,.39,.42,.48,.92]],[.945,[.16,.195,.225,.255,.285,.315,.345,.38,.41,.46]],[.95,[.16,.19,.22,.25,.28,.31,.34,.37,.4,.44,.5]],[.955,[.14,.175,.205,.235,.265,.295,.325,.355,.385,.42,.48]],[.96,[.13,.16,.19,.22,.25,.28,.31,.34,.37,.4,.44,.5,.62]],[.965,[.11,.145,.175,.205,.235,.265,.295,.325,.355,.39,.43,.5]],[.97,[.1,.13,.16,.19,.22,.25,.28,.31,.34,.37,.4,.44,.5,.58,.72]],[.975,[.08,.14,.2,.26,.32,.38,.44,.52]],[.98,[.06,.09,.12,.15,.18,.21,.24,.27,.3,.33,.36,.4,.45,.5,.58,.68,1.05]],[.985,[.05,.11,.17,.23,.29,.35,.41,.48,.56,.66]],[.99,[.03,.06,.09,.12,.15,.18,.21,.24,.27,.3,.33,.36,.4,.45,.5,.56,.62,.7,.8,.9,1.0]],[.995,[.02,.08,.14,.2,.26,.32,.38,.44,.5,.56,.62,.7,.78,.88,1.18]],[1,[.01,.04,.07,.1,.13,.16,.19,.22,.25,.28,.31,.34,.37,.4,.44,.48,.52,.58,.64,.7,.78,.86,.94]]];

// ---------- drawing ----------
const RED="#ff0000", BLUE="#0000ee";
const FONT="'Liberation Sans', Arial, Helvetica, sans-serif";
const flat=cols=>cols.flatMap(([x,ys])=>ys.map(y=>[x,y]));
const svg=d3.select("#c").style("font-family",FONT);

const panels=[
 {x0:63,x1:322,y0:13,y1:212,ydom:[0,200],yt:dispTicks,fmt:d3.format("d"),ext:extA_disp,ret:retA_disp,ylab:"SWNT displacement (nm)",ylx:22,yly:114,xlab:false,legend:true},
 {x0:387,x1:645,y0:13,y1:212,ydom:[0,2],yt:cosTicks,fmt:d3.format(".1f"),ext:extA_cos,ret:retA_cos,ylab:"cos α",ylx:350,yly:127,xlab:false,legend:false},
 {x0:63,x1:323,y0:292,y1:491,ydom:[0,200],yt:dispTicks,fmt:d3.format("d"),ext:extB_disp,ret:retB_disp,ylab:"SWNT displacement (nm)",ylx:22,yly:393,xlab:true,legend:false},
 {x0:387,x1:646,y0:292,y1:491,ydom:[0,2],yt:cosTicks,fmt:d3.format(".1f"),ext:extB_cos,ret:retB_cos,ylab:"cos α",ylx:350,yly:407,xlab:true,legend:false}
];

panels.forEach(p=>{
 const x=d3.scaleLinear().domain([0,1]).range([p.x0,p.x1]);
 const y=d3.scaleLinear().domain(p.ydom).range([p.y1,p.y0]);
 const g=svg.append("g");
 g.selectAll("line.grid").data(p.yt.slice(1,-1)).join("line").attr("class","grid")
  .attr("x1",p.x0).attr("x2",p.x1).attr("y1",d=>Math.round(y(d))+0.5).attr("y2",d=>Math.round(y(d))+0.5)
  .attr("stroke","#b2b2b2").attr("stroke-width",1);
 g.append("path").attr("d",`M${p.x0+0.5},${p.y0+0.5}H${p.x1+0.5}V${p.y1+0.5}`)
  .attr("fill","none").attr("stroke","#9a9a9a").attr("stroke-width",1);
 [[p.ret,BLUE],[p.ext,RED]].forEach(([data,col])=>{
  g.append("g").selectAll("circle").data(flat(data)).join("circle")
   .attr("cx",d=>x(d[0])).attr("cy",d=>y(d[1])).attr("r",1.6).attr("fill",col);
 });
 const ay=g.append("g").attr("transform",`translate(${p.x0},0)`)
  .call(d3.axisLeft(y).tickValues(p.yt).tickFormat(p.fmt).tickSizeInner(4).tickSizeOuter(0).tickPadding(3));
 ay.selectAll(".tick").append("line").attr("x2",3).attr("stroke","currentColor");
 const ax=g.append("g").attr("transform",`translate(0,${p.y1})`)
  .call(d3.axisBottom(x).tickValues(xTicks).tickFormat(d3.format(".1f")).tickSizeInner(-4).tickSizeOuter(0).tickPadding(6));
 [ay,ax].forEach(a=>{a.attr("color","#555");a.selectAll("text").attr("fill","#333").style("font-size","13px").style("font-family",FONT);});
 g.append("text").attr("transform",`translate(${p.ylx},${p.yly}) rotate(-90)`)
  .attr("text-anchor","middle").attr("dominant-baseline","middle").attr("fill","#222")
  .style("font-size","16.5px").text(p.ylab);
 if(p.xlab){
  g.append("text").attr("x",(p.x0+p.x1)/2).attr("y",p.y1+36).attr("text-anchor","middle").attr("dominant-baseline","middle")
   .attr("fill","#222").style("font-size","16px").text("Normalized amplitude");
 }
 if(p.legend){
  const items=[{name:seriesNames[0],col:RED,dx:78,tx:103},{name:seriesNames[1],col:BLUE,dx:213,tx:240}];
  items.forEach(it=>{
   g.selectAll(null).data([0,7,14]).join("circle").attr("cx",d=>it.dx+d).attr("cy",26).attr("r",1.6).attr("fill",it.col);
   g.append("text").attr("x",it.tx).attr("y",26).attr("dominant-baseline","middle").attr("fill","#222")
    .style("font-size","16px").text(it.name);
  });
 }
});

panelTitles.forEach((t,i)=>{
 svg.append("text").attr("x",334).attr("y",i===0?266:572).attr("text-anchor","middle")
  .attr("fill","#222").style("font-size","26px").style("letter-spacing","2.2px").text(t);
});
</script></body></html>
